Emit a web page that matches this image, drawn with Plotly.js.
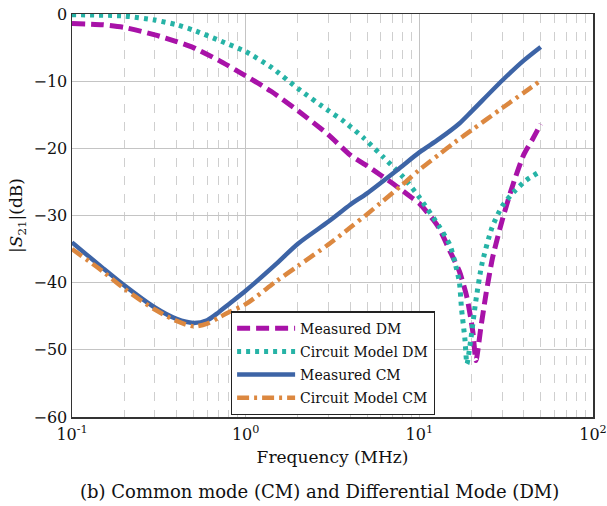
<!DOCTYPE html>
<html>
<head>
<meta charset="utf-8">
<script src="https://cdn.plot.ly/plotly-3.0.1.min.js"></script>
<style>html,body{margin:0;padding:0;background:#fff;}#chart{width:607px;height:506px;}</style>
</head>
<body>
<div id="chart"></div>
<script>
// Measured DM
var fMeasDM = [0.1,0.15,0.2,0.3,0.4,0.5,0.7,1,1.4,2,3,4,5,6,7,8,9,10,12,13,15,17,18.8,20.3,21.2,22.6,24.2,26.4,30.3,34.7,40,45,50];
var sMeasDM = [-1.4,-1.6,-2.0,-3.1,-4.1,-5.0,-6.9,-9.2,-11.5,-14.4,-18.0,-21.0,-22.6,-24.0,-25.2,-26.3,-27.3,-28.2,-30.6,-31.9,-35.3,-38.3,-42.2,-47.2,-51.6,-46.7,-41.7,-36.3,-30.3,-25.3,-20.9,-18.6,-16.4];
// Circuit Model DM
var fModDM = [0.1,0.2,0.3,0.4,0.5,0.7,1,1.4,2,3,3.6,4.8,6.2,8.1,10,13,15,16,17,17.5,18.3,18.8,19.8,21.1,22.9,26.2,30,35,41,50];
var sModDM = [-0.1,-0.3,-0.9,-1.6,-2.4,-3.9,-5.6,-7.9,-11.1,-14.4,-15.8,-18.5,-21.3,-24.3,-27.3,-31.6,-34.4,-36.9,-39.9,-43.9,-48.4,-52.1,-48.4,-42.9,-37.3,-31.8,-28.6,-26.5,-24.8,-23.4];
// Measured CM
var fMeasCM = [0.1,0.15,0.2,0.3,0.4,0.5,0.6,0.7,0.8,1,1.5,2,3,4,5,7.4,10,13,17,20,30,40,50];
var sMeasCM = [-34.0,-37.8,-40.4,-43.7,-45.4,-46.0,-45.6,-44.4,-43.2,-41.2,-37.2,-34.2,-30.9,-28.4,-26.7,-23.3,-20.6,-18.6,-16.3,-14.5,-9.9,-6.9,-4.9];
// Circuit Model CM
var fModCM = [0.1,0.15,0.2,0.3,0.4,0.5,0.6,0.7,0.8,1,1.5,2,3,4,5,6,8,10,13,16,20,30,40,50];
var sModCM = [-35.0,-38.3,-40.9,-44.0,-45.7,-46.5,-46.1,-45.2,-44.4,-43.2,-39.8,-37.5,-34.3,-31.8,-29.8,-28.1,-25.4,-23.2,-20.9,-19.1,-17.3,-14.0,-11.7,-9.9];

var seriesNames = ['Measured DM','Circuit Model DM','Measured CM','Circuit Model CM'];
var xTickVals = [0.1,1,10,100];
var xTickText = ['10<sup>-1</sup>','10<sup>0</sup>','10<sup>1</sup>','10<sup>2</sup>'];
var captionText = '(b) Common mode (CM) and Differential Mode (DM)';

var serif = 'DejaVu Serif';
var minorVals = [];
[0.1,1,10].forEach(function(d){ for (var k=2;k<=9;k++) minorVals.push(d*k); });

var traces = [
  {x:fMeasDM, y:sMeasDM, name:seriesNames[0], legendgroup:'g1', mode:'lines', line:{color:'#a812a8', width:5, dash:'13px,6px', shape:'spline', smoothing:0.6}},
  {x:fModDM, y:sModDM, name:seriesNames[1], legendgroup:'g2', mode:'lines', line:{color:'#26b3a6', width:5, dash:'4px,5px', shape:'spline', smoothing:0.6}},
  {x:fMeasCM, y:sMeasCM, name:seriesNames[2], legendgroup:'g3', mode:'lines', line:{color:'#3d64a6', width:4.5, shape:'spline', smoothing:0.8}},
  {x:fModCM, y:sModCM, name:seriesNames[3], legendgroup:'g4', mode:'lines', line:{color:'#dc8840', width:4.5, dash:'12px,5px,3px,5px', shape:'spline', smoothing:0.8}}
];

var layout = {
  width:607, height:506,
  margin:{l:72, r:14, t:14, b:89},
  paper_bgcolor:'#fff', plot_bgcolor:'#fff',
  font:{family:serif, size:16, color:'#111'},
  showlegend:true,
  legend:{x:0.305, y:0.262, xanchor:'left', yanchor:'top', bgcolor:'#fff', bordercolor:'#222', borderwidth:1.2,
          font:{family:serif, size:14, color:'#111'}, itemwidth:58, tracegroupgap:2},
  xaxis:{type:'log', range:[-1,2], tickvals:xTickVals, ticktext:xTickText, ticks:'', ticklabelstandoff:2,
         showgrid:true, gridcolor:'#c4c4c4', gridwidth:1,
         minor:{tickvals:minorVals, showgrid:true, gridcolor:'#cfcfcf', griddash:'dash', gridwidth:1, ticks:''},
         showline:true, linecolor:'#333', linewidth:1.5, mirror:true, zeroline:false,
         tickfont:{family:serif, size:16, color:'#111'},
         title:{text:'Frequency (MHz)', font:{family:serif, size:17, color:'#111'}, standoff:8}},
  yaxis:{range:[-60,0], dtick:10, ticks:'', showgrid:true, gridcolor:'#c4c4c4', gridwidth:1,
         showline:true, linecolor:'#333', linewidth:1.5, mirror:true, zeroline:false,
         tickfont:{family:serif, size:16, color:'#111'},
         title:{text:'|<i>S</i><sub>21</sub>|(dB)', font:{family:serif, size:17, color:'#111'}, standoff:6}},
  annotations:[{text:captionText, xref:'paper', yref:'paper', x:0.476, y:-0.184, xanchor:'center', yanchor:'middle',
                showarrow:false, font:{family:serif, size:18, color:'#111'}}]
};

Plotly.newPlot('chart', traces, layout, {displayModeBar:false, staticPlot:true});
</script>
</body>
</html>
